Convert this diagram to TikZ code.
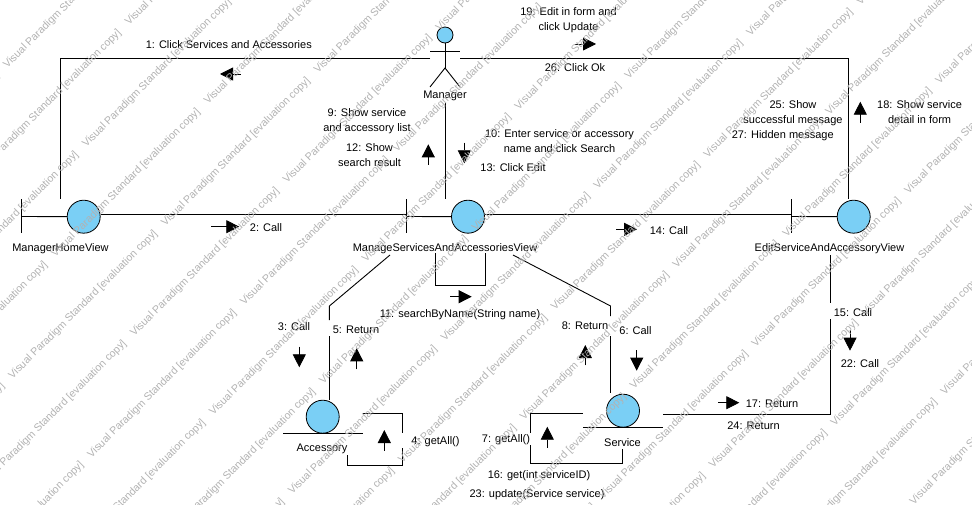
\documentclass[tikz,border=0pt]{standalone}
\usepackage{fontspec}
\setmainfont{Liberation Sans}
\usetikzlibrary{arrows.meta}
\usetikzlibrary{positioning}
\definecolor{vpblue}{RGB}{122,207,245}
\tikzset{
  lab/.style={font=\fontsize{11}{15}\selectfont,align=center,inner sep=0pt,yshift=-1pt},
  conn/.style={line width=.9pt},
  msg/.style={line width=.8pt,-{Triangle[length=13pt,width=13pt]}},
  ball/.style={circle,draw,line width=.8pt,fill=vpblue,minimum size=33pt,inner sep=0pt},
  head/.style={circle,draw,line width=.8pt,fill=vpblue,minimum size=16pt,inner sep=0pt},
  wmark/.style={font=\fontsize{10.6}{12}\selectfont,text=black!30,anchor=west,rotate=45,inner sep=0pt}
}
\begin{document}
\begin{tikzpicture}[x=1pt,y=-1pt]
\useasboundingbox (0,0) rectangle (972,505);
% boundaries
\node[ball] (home) at (83.7,216.7) {};
\node[ball] (manage) at (468,216.7) {};
\node[ball] (edit) at (853.7,216.7) {};
\coordinate (homeBar) at (21.5,216.5);
\coordinate (manageBar) at (406.3,216.5);
\coordinate (editBar) at (791.3,216.5);
\foreach \b/\c in {homeBar/home,manageBar/manage,editBar/edit}{
  \draw[conn] (\b)++(0,-17)--++(0,34);
  \draw[conn] (\b)--(\c);
}
% entities
\node[ball] (accessory) at (322.7,416.7) {};
\node[ball] (service) at (623,410.7) {};
\draw[conn] (283.3,433.2)--(363.3,433.2);
\draw[conn] (583.3,427.3)--(662.7,427.3);
% actor
\node[head] (mgrHead) at (445,35) {};
\coordinate (mgrHip) at (445,68);
\coordinate (mgrArmL) at (430,51.5);
\coordinate (mgrArmR) at (460,51.5);
\draw[conn] (mgrHead)--(mgrHip);
\draw[conn] (mgrArmL)--(mgrArmR);
\draw[conn] (430,87)--(mgrHip)--(460,87);
% names
\node[lab] (mgrName) at (445,95) {Manager};
\node[lab] (homeName) at (60.5,248) {ManagerHomeView};
\node[lab] (manageName) at (445,248) {ManageServicesAndAccessoriesView};
\node[lab] (editName) at (829.5,248) {EditServiceAndAccessoryView};
\node[lab] (accName) at (322,448) {Accessory};
\node[lab] (svcName) at (622.5,442) {Service};
% links
\coordinate (c1) at (60.5,58.5);
\coordinate (c2) at (848.3,58.5);
\coordinate (c3) at (329.4,306);
\coordinate (c4) at (610.5,306);
\coordinate (c5) at (830.7,414);
\draw[conn] (430,58.5)--(c1)--(60.5,199.5);
\draw[conn] (460,58.5)--(c2)--(848.3,199.5);
\draw[conn] (445.7,103)--(445.7,199.5);
\draw[conn] (100.5,214.5)--(manageBar|-0,214.5);
\draw[conn] (484.8,214.5)--(editBar|-0,214.5);
\draw[conn] (390,255)--(c3)--(329.4,320);
\draw[conn] (329.4,336)--(329.4,400);
\draw[conn] (513,255)--(c4)--(610.5,316);
\draw[conn] (610.5,336)--(610.5,393);
\draw[conn] (830.7,255)--(830.7,303);
\draw[conn] (830.7,319)--(c5)--(662.7,414);
% self links
\draw[conn] (435.3,253)--(435.3,285)--(485.3,285)--(485.3,253);
\draw[conn] (362.7,413.3)--(402.7,413.3)--(402.7,432.7);
\draw[conn] (402.7,448.3)--(402.7,465)--(347.3,465)--(347.3,455);
\draw[conn] (582.7,413.3)--(530.3,413.3)--(530.3,433);
\draw[conn] (530.3,445)--(530.3,463.3)--(622.3,463.3)--(622.3,449.3);
% message arrows
\draw[msg] (240.7,74)--(220,74);
\draw[msg] (211,226.7)--(239.3,226.7);
\draw[msg] (428.3,165)--(428.3,144.3);
\draw[msg] (464.3,142.7)--(464.3,163.3);
\draw[msg] (575.3,44)--(596,44);
\draw[msg] (616,229.3)--(637,229.3);
\draw[msg] (860.3,122.7)--(860.3,101.7);
\draw[msg] (450,296.7)--(471.7,296.7);
\draw[msg] (299.3,346.7)--(299.3,367.3);
\draw[msg] (356.7,369.3)--(356.7,348.3);
\draw[msg] (384.3,450.7)--(384.3,430);
\draw[msg] (585.3,365.3)--(585.3,345);
\draw[msg] (636.7,350)--(636.7,370.7);
\draw[msg] (547.3,447.7)--(547.3,426.7);
\draw[msg] (718.3,402.7)--(739.3,402.7);
\draw[msg] (850,330)--(850,350.7);
% message labels
\node[lab] (m1) at (228.8,44) {1: Click Services and Accessories};
\node[lab] (m2) at (266,227) {2: Call};
\node[lab] (m9) at (367,119.7) {9: Show service\\and accessory list};
\node[lab] (m12) at (369.5,154.5) {12: Show\\search result};
\node[lab] (m10) at (559.5,140.5) {10: Enter service or accessory\\name and click Search};
\node[lab] (m13) at (513,167) {13: Click Edit};
\node[lab] (m19) at (568.5,19.5) {19: Edit in form and\\click Update};
\node[lab] (m26) at (575,67) {26: Click Ok};
\node[lab] (m14) at (669,230) {14: Call};
\node[lab] (m25) at (793,112.5) {25: Show\\successful message};
\node[lab] (m27) at (782.7,135) {27: Hidden message};
\node[lab] (m18) at (919.6,111.5) {18: Show service\\detail in form};
\node[lab] (m11) at (460,314) {11: searchByName(String name)};
\node[lab] (m3) at (294,326) {3: Call};
\node[lab] (m5) at (356,329) {5: Return};
\node[lab] (m4) at (435.5,441) {4: getAll()};
\node[lab] (m8) at (585,325) {8: Return};
\node[lab] (m6) at (635.5,330) {6: Call};
\node[lab] (m7) at (506,438.7) {7: getAll()};
\node[lab] (m16) at (539,475) {16: get(int serviceID)};
\node[lab] (m23) at (537,494) {23: update(Service service)};
\node[lab] (m15) at (853,311.5) {15: Call};
\node[lab] (m22) at (860,363) {22: Call};
\node[lab] (m17) at (772,403) {17: Return};
\node[lab] (m24) at (753.5,425) {24: Return};
% evaluation stamp
\begin{scope}
\clip (0,0) rectangle (972,505);
\foreach \k in {-3,...,19}
  \foreach \m in {-3,...,4}{
    \pgfmathsetmacro\wms{72+79*\k}
    \pgfmathsetmacro\wmt{(mod(\k+100,2)==0 ? 244 : 103)+305.5*\m}
    \node[wmark] (wm\k x\m) at ({(\wms+\wmt)/2},{(\wms-\wmt)/2}) {Visual Paradigm Standard [evaluation copy]};
  }
\end{scope}
\end{tikzpicture}
\end{document}
